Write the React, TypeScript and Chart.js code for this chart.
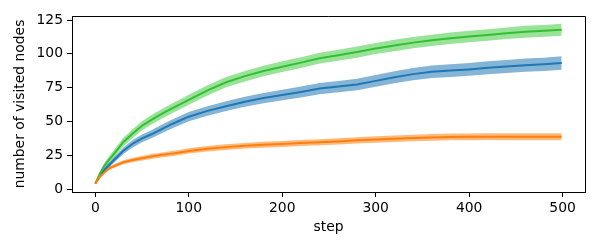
import React, { useEffect, useRef } from "react";
import { Chart, registerables } from "chart.js";

Chart.register(...registerables);

const steps = [0, 5, 10, 15, 20, 30, 40, 50, 60, 70, 80, 90, 100, 120, 140, 160, 180, 200, 220, 240, 260, 280, 300, 320, 340, 360, 380, 400, 420, 440, 460, 480, 499];

const blueMean = [4, 10, 14.5, 18, 21.5, 28.3, 33.5, 37.5, 40.5, 44, 47.5, 50.5, 53.5, 57.8, 61.3, 64.5, 67.3, 69.5, 71.8, 74.3, 75.8, 77.3, 80, 82.7, 85, 86.7, 87.6, 88.5, 89.7, 90.7, 91.6, 92.3, 93.2];
const blueSpread = [0.5, 1, 1.5, 1.8, 2, 2.4, 2.7, 2.9, 3, 3.1, 3.2, 3.3, 3.4, 3.5, 3.6, 3.7, 3.8, 3.9, 4, 4.1, 4.2, 4.3, 4.4, 4.5, 4.6, 4.6, 4.7, 4.7, 4.8, 4.8, 4.9, 4.9, 5];

const orangeMean = [4, 9, 12.5, 15.3, 17, 19.8, 21.5, 22.8, 24.1, 25.1, 26, 27, 28.2, 29.8, 31, 32, 32.8, 33.3, 34, 34.6, 35.2, 36, 36.6, 37.2, 37.8, 38.2, 38.5, 38.6, 38.7, 38.7, 38.7, 38.7, 38.7];
const orangeSpread = [0.5, 0.9, 1.1, 1.3, 1.4, 1.5, 1.6, 1.7, 1.8, 1.8, 1.9, 1.9, 2, 2, 2.1, 2.1, 2.2, 2.2, 2.2, 2.3, 2.3, 2.3, 2.4, 2.4, 2.4, 2.5, 2.5, 2.5, 2.5, 2.6, 2.6, 2.6, 2.6];

const greenMean = [4, 11.5, 17.5, 22, 26, 34.8, 41, 46.8, 51.2, 55.2, 59, 62.5, 66, 73, 79, 83.5, 87.3, 90.5, 93.5, 96.8, 99, 101.3, 104, 106.2, 108.3, 110, 111.5, 112.8, 113.9, 115.2, 116.3, 117, 117.8];
const greenSpread = [0.5, 1.5, 2.1, 2.5, 2.8, 3.1, 3.3, 3.4, 3.5, 3.5, 3.6, 3.6, 3.7, 3.8, 3.8, 3.9, 3.9, 4, 4, 4, 4.1, 4.1, 4.1, 4.2, 4.2, 4.2, 4.3, 4.3, 4.3, 4.3, 4.4, 4.4, 4.4];

const xTicks = [0, 100, 200, 300, 400, 500];
const yTicks = [0, 25, 50, 75, 100, 125];

const xLabel = "step";
const yLabel = "number of visited nodes";

const FONT = "'DejaVu Sans', sans-serif";
const FS = 13.9;

type Series = { mean: number[]; spread: number[]; line: string; band: string; order: number };

const series: Series[] = [
  { mean: blueMean, spread: blueSpread, line: "#1f77b4", band: "rgba(31,119,180,0.55)", order: 2 },
  { mean: orangeMean, spread: orangeSpread, line: "#ff7f0e", band: "rgba(255,127,14,0.55)", order: 0 },
  { mean: greenMean, spread: greenSpread, line: "#32c032", band: "rgba(50,200,50,0.5)", order: 1 },
];

export default function App() {
  const ref = useRef<HTMLCanvasElement | null>(null);
  useEffect(() => {
    if (!ref.current) return;
    const datasets: any[] = [];
    series.forEach((s, k) => {
      datasets.push({
        data: steps.map((x, i) => ({ x, y: s.mean[i] - s.spread[i] })),
        borderWidth: 0,
        pointRadius: 0,
        fill: false,
        order: 10 + k * 2,
      });
      datasets.push({
        data: steps.map((x, i) => ({ x, y: s.mean[i] + s.spread[i] })),
        borderWidth: 0,
        pointRadius: 0,
        backgroundColor: s.band,
        fill: "-1",
        order: 10 + k * 2,
      });
    });
    series.forEach((s) => {
      datasets.push({
        data: steps.map((x, i) => ({ x, y: s.mean[i] })),
        borderColor: s.line,
        borderWidth: 2,
        pointRadius: 0,
        fill: false,
        order: s.order,
      });
    });
    const chart = new Chart(ref.current, {
      type: "line",
      data: { datasets },
      options: {
        animation: false,
        responsive: false,
        devicePixelRatio: 1,
        layout: { padding: { left: 0, right: 15, top: 16, bottom: 0 } },
        plugins: { legend: { display: false }, tooltip: { enabled: false } },
        elements: { line: { tension: 0 } },
        scales: {
          x: {
            type: "linear",
            min: -24.95,
            max: 523.95,
            afterBuildTicks: (sc: any) => {
              sc.ticks = xTicks.map((v) => ({ value: v }));
            },
            afterFit: (sc: any) => {
              sc.height = 58;
            },
            ticks: {
              color: "#000",
              font: { family: FONT, size: FS },
              padding: 3,
              maxRotation: 0,
              autoSkip: false,
              callback: (v: any) => String(v),
            },
            grid: { display: true, drawOnChartArea: false, drawTicks: true, tickLength: 5, color: "#000", tickColor: "#000" },
            border: { display: true, color: "#000", width: 1 },
            title: { display: true, text: xLabel, color: "#000", font: { family: FONT, size: FS }, padding: { top: 0, bottom: 14 } },
          },
          y: {
            type: "linear",
            min: -2.2,
            max: 128,
            afterBuildTicks: (sc: any) => {
              sc.ticks = yTicks.map((v) => ({ value: v }));
            },
            afterFit: (sc: any) => {
              sc.width = 72;
            },
            ticks: {
              color: "#000",
              font: { family: FONT, size: FS },
              padding: 4,
              autoSkip: false,
              callback: (v: any) => String(v),
            },
            grid: { display: true, drawOnChartArea: false, drawTicks: true, tickLength: 5, color: "#000", tickColor: "#000" },
            border: { display: true, color: "#000", width: 1 },
            title: { display: true, text: yLabel, color: "#000", font: { family: FONT, size: FS }, padding: { top: 12, bottom: 0 } },
          },
        },
      },
      plugins: [
        {
          id: "frame",
          afterDraw: (c: any) => {
            const { ctx, chartArea: a } = c;
            ctx.save();
            ctx.strokeStyle = "#000";
            ctx.lineWidth = 1;
            ctx.beginPath();
            ctx.moveTo(a.left, a.top + 0.5);
            ctx.lineTo(a.right + 0.5, a.top + 0.5);
            ctx.lineTo(a.right + 0.5, a.bottom);
            ctx.stroke();
            ctx.restore();
          },
        },
      ],
    } as any);
    return () => chart.destroy();
  }, []);
  return (
    <div style={{ position: "absolute", left: 0, top: 0, width: 600, height: 250, background: "#fff" }}>
      <canvas ref={ref} width={600} height={250} />
    </div>
  );
}
